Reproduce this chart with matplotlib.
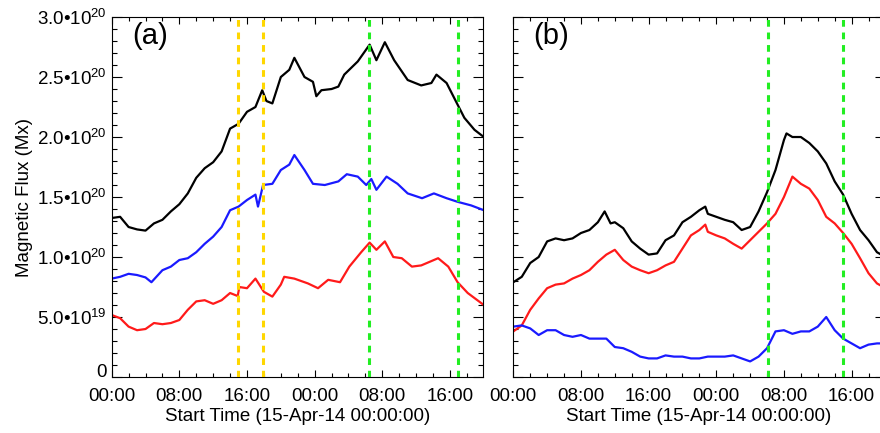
import numpy as np
import matplotlib
matplotlib.use("Agg")
import matplotlib.pyplot as plt
from matplotlib.ticker import MultipleLocator, FixedLocator

plt.rcParams["font.family"] = ["Liberation Sans", "DejaVu Sans"]
plt.rcParams["mathtext.fontset"] = "custom"
plt.rcParams["mathtext.rm"] = "Liberation Sans"
plt.rcParams["mathtext.default"] = "regular"

# hours since 15-Apr-14 00:00, flux in units of 1e20 Mx

# panel (a)
a_black_t = [0, 1, 2, 3, 4, 5, 6, 7, 8, 9, 10, 11, 12, 13, 14, 15, 16, 17, 17.8, 18.3, 19, 20, 21, 21.6,
             22.8, 23.8, 24.2, 24.8, 26, 26.8, 27.5, 29.1, 30.5, 31.3, 32.3, 33.4, 35.0, 36.6, 37.8, 38.4,
             39.6, 40.9, 41.7, 42.9, 44]
a_black = [1.325, 1.335, 1.25, 1.23, 1.22, 1.28, 1.31, 1.38, 1.44, 1.53, 1.66, 1.74, 1.79, 1.88, 2.07, 2.11,
           2.21, 2.25, 2.39, 2.30, 2.28, 2.50, 2.56, 2.66, 2.50, 2.46, 2.34, 2.39, 2.40, 2.42, 2.52, 2.63,
           2.77, 2.64, 2.79, 2.64, 2.475, 2.43, 2.45, 2.52, 2.45, 2.27, 2.16, 2.06, 2.0]

a_blue_t = [0, 1, 2, 3, 4, 4.7, 6, 7, 8, 9, 10, 11, 12, 13, 14, 15, 16, 17, 17.3, 17.9, 19, 20, 21, 21.6,
            22.8, 23.8, 25.2, 26.8, 27.8, 29.1, 30.1, 30.7, 31.3, 32.5, 33.8, 35.0, 36.7, 38.1, 39.6, 40.9,
            42.5, 44]
a_blue = [0.82, 0.835, 0.86, 0.85, 0.83, 0.79, 0.89, 0.92, 0.975, 0.99, 1.04, 1.11, 1.17, 1.25, 1.39, 1.42,
          1.475, 1.52, 1.42, 1.60, 1.61, 1.725, 1.77, 1.85, 1.725, 1.61, 1.60, 1.63, 1.69, 1.67, 1.60, 1.65,
          1.56, 1.67, 1.61, 1.53, 1.49, 1.53, 1.49, 1.46, 1.43, 1.39]

a_red_t = [0, 1, 2, 3, 4, 5, 6, 7, 8, 9, 10, 11, 12, 13, 14, 14.9, 15.1, 16, 17, 18, 19, 20, 20.4, 21.6,
           23.2, 24.4, 25.6, 27.0, 28.1, 29.5, 30.5, 31.3, 32.3, 33.3, 34.3, 35.5, 36.6, 38.6, 39.8, 40.9,
           42.1, 44]
a_red = [0.517, 0.49, 0.42, 0.39, 0.40, 0.45, 0.44, 0.45, 0.475, 0.56, 0.63, 0.64, 0.61, 0.64, 0.70, 0.675,
         0.75, 0.74, 0.82, 0.71, 0.67, 0.77, 0.835, 0.82, 0.78, 0.74, 0.81, 0.79, 0.92, 1.04, 1.12, 1.06,
         1.13, 1.0, 0.99, 0.92, 0.93, 0.99, 0.92, 0.79, 0.70, 0.60]

a_yellow_lines = [14.97, 17.93]
a_green_lines = [30.46, 40.9]

# panel (b)
b_black_t = [0, 1, 2, 3, 4, 5, 6, 7, 8, 9, 10, 10.8, 11.5, 12, 13, 14, 15, 16, 17, 18, 19, 20, 21, 22,
             22.7, 23, 24, 25, 26, 27, 28, 29, 30, 31, 32, 32.3, 33, 34, 35, 36, 37, 38, 39, 40, 41, 42,
             43, 44]
b_black = [0.79, 0.835, 0.95, 1.0, 1.13, 1.155, 1.14, 1.155, 1.20, 1.225, 1.29, 1.38, 1.28, 1.29, 1.24,
           1.13, 1.07, 1.02, 1.03, 1.14, 1.18, 1.29, 1.335, 1.39, 1.42, 1.36, 1.335, 1.31, 1.29, 1.225, 1.25,
           1.38, 1.54, 1.725, 1.975, 2.03, 2.0, 2.0, 1.95, 1.88, 1.78, 1.63, 1.52, 1.36, 1.225, 1.14, 1.04,
           1.0]

b_red_t = [0, 1, 2, 3, 4, 5, 6, 7, 8, 9, 10, 11, 12, 13, 14, 15, 16, 17, 18, 19, 20, 21, 22, 22.7, 23,
           24, 25, 26, 27, 28, 29, 30, 31, 32, 33, 34, 35, 36, 37, 38, 39, 40, 41, 42, 43, 44]
b_red = [0.38, 0.43, 0.56, 0.655, 0.74, 0.77, 0.78, 0.82, 0.85, 0.89, 0.96, 1.02, 1.06, 0.975, 0.92, 0.89,
         0.865, 0.89, 0.93, 0.96, 1.07, 1.18, 1.225, 1.27, 1.21, 1.18, 1.155, 1.11, 1.07, 1.14, 1.21, 1.28,
         1.36, 1.50, 1.67, 1.61, 1.57, 1.475, 1.335, 1.28, 1.20, 1.11, 0.99, 0.865, 0.78, 0.74]

b_blue_t = list(range(45))
b_blue = [0.42, 0.43, 0.405, 0.35, 0.39, 0.39, 0.35, 0.335, 0.35, 0.32, 0.32, 0.32, 0.25, 0.24, 0.21, 0.17,
          0.155, 0.155, 0.18, 0.17, 0.17, 0.155, 0.155, 0.17, 0.17, 0.17, 0.18, 0.155, 0.13, 0.17, 0.24,
          0.38, 0.39, 0.36, 0.38, 0.38, 0.42, 0.50, 0.39, 0.32, 0.28, 0.24, 0.27, 0.28, 0.28]

b_green_lines = [30.15, 39.0]

x_ticks = [0, 8, 16, 24, 32, 40]
x_labels = ["00:00", "08:00", "16:00", "00:00", "08:00", "16:00"]
y_ticks = [0, 0.5, 1.0, 1.5, 2.0, 2.5, 3.0]
y_labels = ["0", "5.0•10$^{19}$", "1.0•10$^{20}$", "1.5•10$^{20}$",
            "2.0•10$^{20}$", "2.5•10$^{20}$", "3.0•10$^{20}$"]

FS = 13.5
fig = plt.figure(figsize=(8.8, 4.33), dpi=100)
ax_a = fig.add_axes([0.1269, 0.1293, 0.4223, 0.8314])
ax_b = fig.add_axes([0.5833, 0.1293, 0.4223, 0.8314])


def style_axis(ax, label):
    ax.set_xlim(0, 43.94)
    ax.set_ylim(0, 3.0)
    ax.xaxis.set_major_locator(FixedLocator(x_ticks))
    ax.xaxis.set_minor_locator(MultipleLocator(2))
    ax.set_xticklabels(x_labels)
    ax.yaxis.set_major_locator(FixedLocator(y_ticks))
    ax.yaxis.set_minor_locator(MultipleLocator(0.1))
    ax.tick_params(which="both", direction="in", top=True, right=True, labelsize=FS, width=0.8)
    ax.tick_params(axis="x", which="major", length=5, pad=8)
    ax.tick_params(axis="x", which="minor", length=2.8)
    ax.tick_params(axis="y", which="major", length=7, pad=3.5)
    ax.tick_params(axis="y", which="minor", length=3.5)
    for s in ax.spines.values():
        s.set_linewidth(0.8)
    ax.set_xlabel("Start Time (15-Apr-14 00:00:00)", fontsize=FS, labelpad=2)
    ax.text(0.055, 0.947, label, transform=ax.transAxes, fontsize=21, ha="left", va="center")


def vlines(ax, xs, color):
    for x in xs:
        ax.axvline(x, color=color, lw=2.2, dashes=(2.2, 1.9), zorder=5)


ax_a.plot(a_black_t, a_black, color="black", lw=1.6)
ax_a.plot(a_blue_t, a_blue, color="#1a1aff", lw=1.6)
ax_a.plot(a_red_t, a_red, color="#ff1a1a", lw=1.6)
vlines(ax_a, a_yellow_lines, "#ffd700")
vlines(ax_a, a_green_lines, "#22ee22")
style_axis(ax_a, "(a)")
ax_a.set_yticklabels(y_labels)
ax_a.get_yticklabels()[0].set_verticalalignment("baseline")
ax_a.set_ylabel("Magnetic Flux (Mx)", fontsize=FS, labelpad=3)

ax_b.plot(b_black_t, b_black, color="black", lw=1.6)
ax_b.plot(b_red_t, b_red, color="#ff1a1a", lw=1.6)
ax_b.plot(b_blue_t, b_blue, color="#1a1aff", lw=1.6)
vlines(ax_b, b_green_lines, "#22ee22")
style_axis(ax_b, "(b)")
ax_b.set_yticklabels([])

fig.savefig("out.png", dpi=100)
